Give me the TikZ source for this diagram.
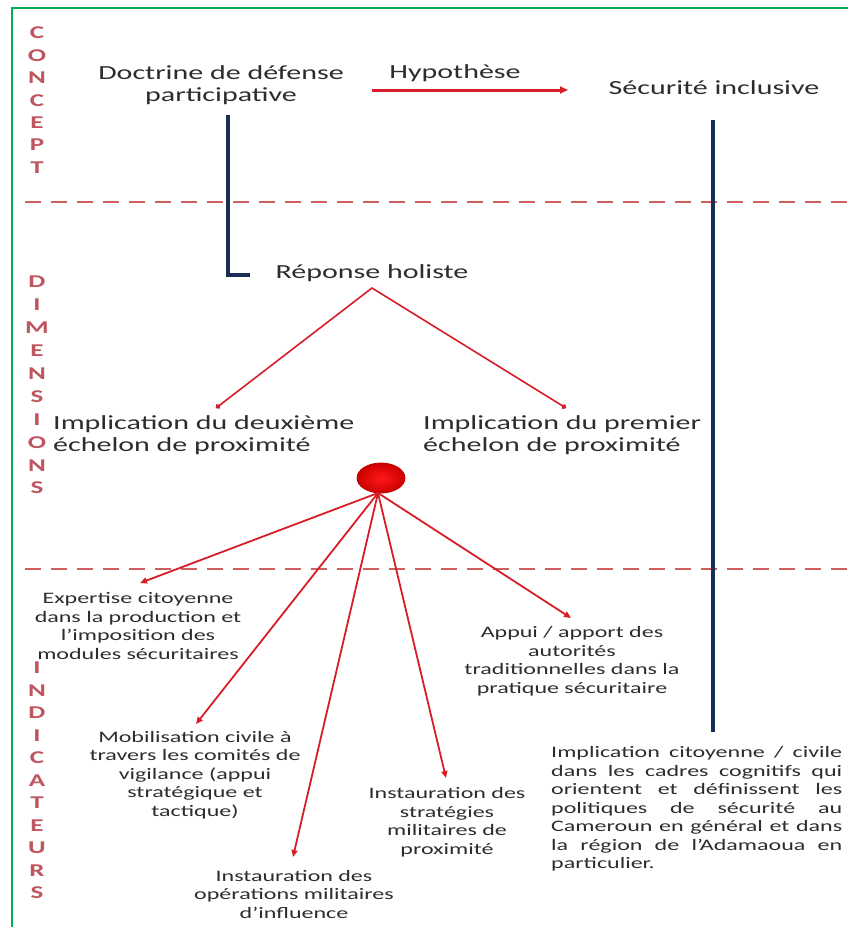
\documentclass[tikz,border=0pt]{standalone}
\usepackage{fontspec}
\setmainfont{Carlito}[FakeStretch=1.5]
\usetikzlibrary{arrows.meta,shapes.geometric}
\definecolor{txt}{RGB}{45,45,45}
\definecolor{lblred}{RGB}{190,85,95}
\definecolor{lnred}{RGB}{215,30,40}
\definecolor{navy}{RGB}{25,45,85}
\definecolor{framegreen}{RGB}{0,176,80}
\definecolor{dashred}{RGB}{205,95,95}
\begin{document}
\begin{tikzpicture}[x=1pt,y=-1pt,
  big/.style={text=txt,font=\fontsize{20}{22}\selectfont,align=center,inner sep=0pt},
  small/.style={text=txt,font=\fontsize{16}{18.5}\selectfont,align=center,inner sep=0pt},
  lbl/.style={text=lblred,font=\fontsize{18}{18}\selectfont\bfseries,inner sep=0pt},
  redarrow/.style={draw=lnred,line width=1.8pt,-{Triangle[length=7pt,width=6pt]}},
  navyline/.style={draw=navy,line width=3.5pt},
  sepline/.style={draw=dashred,line width=2pt,dash pattern=on 16pt off 10pt}]
\useasboundingbox (0,0) rectangle (848,927);
\fill[white] (0,0) rectangle (848,927);
\draw[framegreen,line width=2.5pt] (12,935) -- (12,8) -- (855,8);

% side labels
\foreach \l [count=\i from 0] in {C,O,N,C,E,P,T}
  \node[lbl] (cpt\i) at (37,33+22.4*\i) {\l};
\foreach \l [count=\i from 0] in {D,I,M,E,N,S,I,O,N,S}
  \node[lbl] (dim\i) at (37,282+22.9*\i) {\l};
\foreach \l [count=\i from 0] in {I,N,D,I,C,A,T,E,U,R,S}
  \node[lbl] (ind\i) at (37,668+22.5*\i) {\l};

% separators
\coordinate (s1a) at (25,202); \coordinate (s1b) at (848,202);
\coordinate (s2a) at (25,569); \coordinate (s2b) at (848,569);
\draw[sepline] (s1a) -- (s1b);
\draw[sepline] (s2a) -- (s2b);

% concept level
\node[big] (doc) at (221,85) {Doctrine de défense\\participative};
\node[big] (hyp) at (455,73) {Hypothèse};
\node[big] (sec) at (714,88) {Sécurité inclusive};
\coordinate (hypA) at (372,90);
\coordinate (hypB) at (568,90);
\draw[draw=lnred,line width=3pt,-{Triangle[length=8pt,width=7pt]}] (hypA) -- (hypB);

% navy lines
\coordinate (docL) at (228,115);
\coordinate (repL) at (250,275);
\draw[navyline] (docL) |- (repL);
\coordinate (secT) at (713,120);
\coordinate (secB) at (713,732);
\draw[navyline] (secT) -- (secB);

% dimensions
\node[big] (rep) at (372,273) {Réponse holiste};
\coordinate (repD) at (372,288);
\node[big,align=left,anchor=west] (dim2) at (53,435) {Implication du deuxième\\échelon de proximité};
\node[big,align=left,anchor=west] (dim1) at (423,435) {Implication du premier\\échelon de proximité};
\coordinate (d2t) at (216,408);
\coordinate (d1t) at (566,408);
\draw[draw=lnred,line width=1.6pt,{Circle[length=5pt]}-{Circle[length=5pt]}] (d2t) -- (repD) -- (d1t);

% ball
\node[ellipse,minimum width=48pt,minimum height=30pt,inner sep=0pt,draw={rgb,255:red,190;green,0;blue,0},line width=0.8pt,
      shading=radial,inner color={rgb,255:red,255;green,25;blue,25},
      outer color={rgb,255:red,205;green,0;blue,0}] (ball) at (381,478) {};

% indicators
\node[small] (exp) at (138,626) {Expertise citoyenne\\dans la production et\\l’imposition des\\modules sécuritaires};
\node[small] (mob) at (195,775) {Mobilisation civile à\\travers les comités de\\vigilance (appui\\stratégique et\\tactique)};
\node[small] (ope) at (294,894) {Instauration des\\opérations militaires\\d’influence};
\node[small] (str) at (447,822) {Instauration des\\stratégies\\militaires de\\proximité};
\node[small] (app) at (572,661) {Appui / apport des\\autorités\\traditionnelles dans la\\pratique sécuritaire};
\node[small,anchor=west,align=left] (par) at (551,809) {\parbox{291pt}{%
\makebox[291pt][s]{Implication citoyenne / civile}\\
\makebox[291pt][s]{dans les cadres cognitifs qui}\\
\makebox[291pt][s]{orientent et définissent les}\\
\makebox[291pt][s]{politiques de sécurité au}\\
\makebox[291pt][s]{Cameroun en général et dans}\\
\makebox[291pt][s]{la région de l’Adamaoua en}\\
particulier.}};

\coordinate (expT) at (140,583);
\coordinate (mobT) at (196,724);
\coordinate (opeT) at (293,857);
\coordinate (strT) at (446,778);
\coordinate (appT) at (571,618);
\coordinate (ballB) at (378,493);
\foreach \t in {expT,mobT,opeT,strT,appT}
  \draw[redarrow] (ballB) -- (\t);
\end{tikzpicture}
\end{document}
